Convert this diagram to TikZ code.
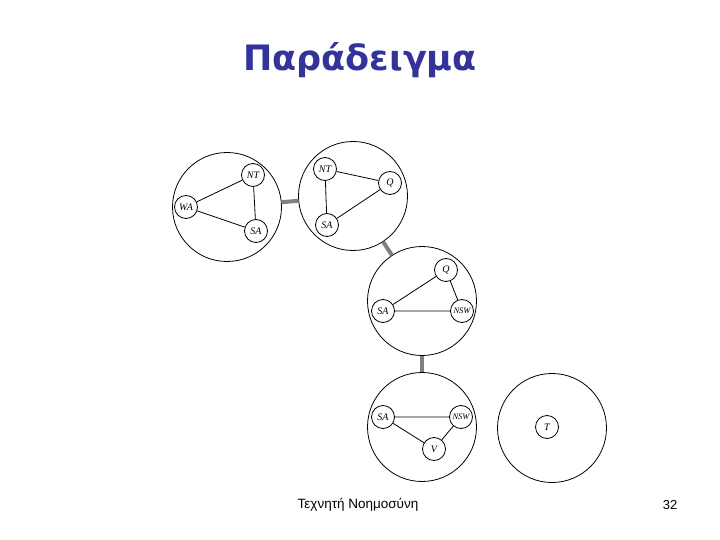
\documentclass[tikz,border=0pt]{standalone}
\usepackage{fontspec}
\setmainfont{Liberation Serif}
\newfontfamily\titlefont{DejaVu Sans}
\newfontfamily\footfont{Liberation Sans}
\definecolor{navy}{HTML}{333399}
\definecolor{linkgray}{HTML}{808080}
\tikzset{
  group/.style={circle, draw=black, line width=0.8pt, minimum size=109pt, inner sep=0pt},
  var/.style={circle, draw=black, line width=0.8pt, minimum size=23pt, inner sep=0pt, font=\itshape\fontsize{10}{11}\selectfont},
  edge/.style={line width=0.8pt},
  link/.style={line width=4pt, draw=linkgray},
}
\begin{document}
\begin{tikzpicture}[x=1pt,y=-1pt]
\useasboundingbox (0,0) rectangle (720,540);
\node[font=\titlefont\bfseries\fontsize{35}{40}\selectfont, text=navy] (title) at (360,60) {Παράδειγμα};
% groups
\node[group] (c1) at (227,207) {};
\node[group] (c2) at (353,196) {};
\node[group] (c3) at (422,301) {};
\node[group] (c4) at (422,427) {};
\node[group] (c5) at (552,428) {};
% links
\draw[link] (c1) -- (c2);
\draw[link] (c2) -- (c3);
\draw[link] (c3) -- (c4);
% group 1
\node[var] (a1) at (253,175) {NT};
\node[var] (a2) at (186,207) {WA};
\node[var] (a3) at (256,231) {SA};
\draw[edge] (a1) -- (a2) (a1) -- (a3) (a2) -- (a3);
% group 2
\node[var] (b1) at (325,169) {NT};
\node[var] (b2) at (390,183) {Q};
\node[var] (b3) at (327,225) {SA};
\draw[edge] (b1) -- (b2) (b1) -- (b3) (b2) -- (b3);
% group 3
\node[var] (d1) at (446,270) {Q};
\node[var] (d2) at (383,311) {SA};
\node[var, font=\itshape\fontsize{8.5}{9}\selectfont] (d3) at (462,311) {NSW};
\draw[edge] (d1) -- (d2) (d1) -- (d3) (d2) -- (d3);
% group 4
\node[var] (e1) at (383,417) {SA};
\node[var, font=\itshape\fontsize{8.5}{9}\selectfont] (e2) at (461,417) {NSW};
\node[var] (e3) at (434,449) {V};
\draw[edge] (e1) -- (e2) (e1) -- (e3) (e2) -- (e3);
% group 5
\node[var] (f1) at (547,427) {T};
% footer
\node[font=\footfont\fontsize{13.5}{15}\selectfont] (foot) at (358,505) {Τεχνητή Νοημοσύνη};
\node[font=\footfont\fontsize{13}{15}\selectfont] (page) at (670,505) {32};
\end{tikzpicture}
\end{document}
